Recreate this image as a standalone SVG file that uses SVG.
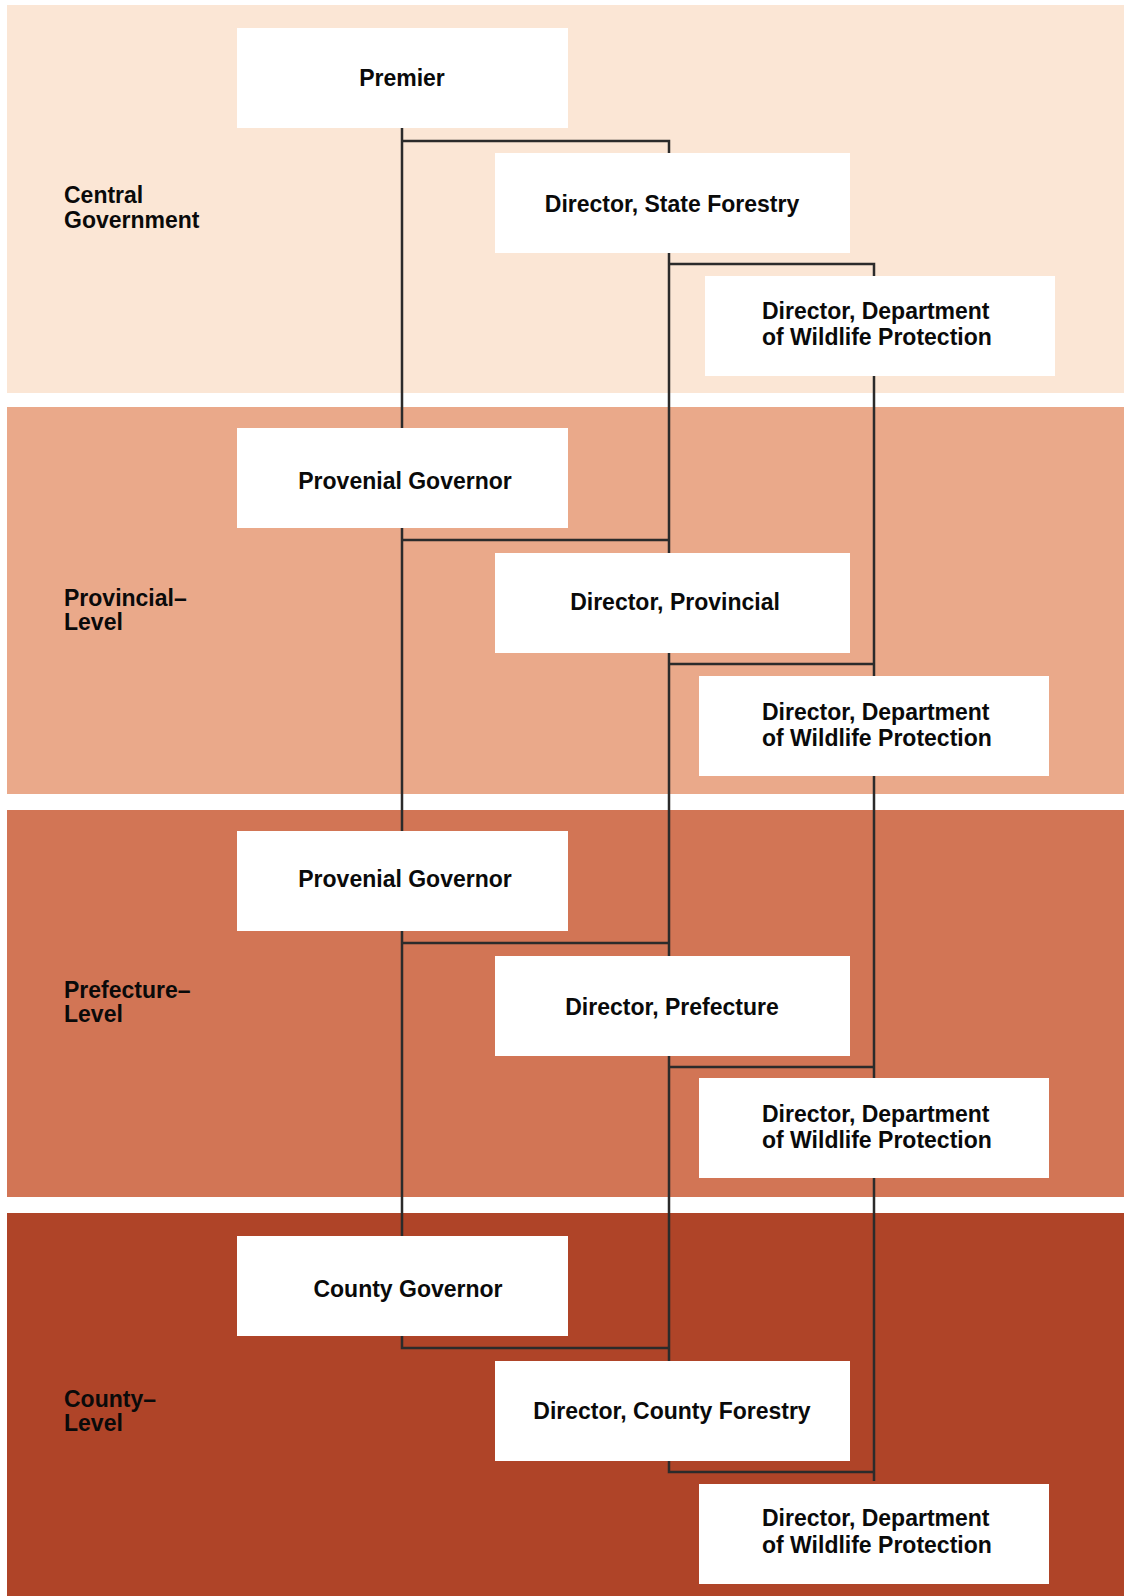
<svg xmlns="http://www.w3.org/2000/svg" width="1124" height="1596" viewBox="0 0 1124 1596">
<style>
.box{fill:#ffffff}
.t{font-family:"Liberation Sans",Arial,sans-serif;font-weight:bold;font-size:23px;fill:#0a0a0a}
.c{text-anchor:middle}
.ln{fill:none;stroke:#2b2b2b;stroke-width:2.5;stroke-linejoin:miter;stroke-linecap:butt}
</style>
<g id="bands">
<rect x="7" y="5" width="1117" height="388" fill="#FBE6D5"/>
<rect x="7" y="407" width="1117" height="387" fill="#EAA98A"/>
<rect x="7" y="810" width="1117" height="387" fill="#D27555"/>
<rect x="7" y="1213" width="1117" height="383" fill="#AF4428"/>
</g>
<g id="level-labels">
<text class="t" x="64" y="203">Central</text>
<text class="t" x="64" y="228">Government</text>
<text class="t" x="64" y="606">Provincial–</text>
<text class="t" x="64" y="630">Level</text>
<text class="t" x="64" y="998">Prefecture–</text>
<text class="t" x="64" y="1022">Level</text>
<text class="t" x="64" y="1407">County–</text>
<text class="t" x="64" y="1431">Level</text>
</g>
<g id="connectors">
<path class="ln" d="M402,128 V1348 H669"/>
<path class="ln" d="M402,141 H669 V1472 H874"/>
<path class="ln" d="M669,264 H874 V1481"/>
<path class="ln" d="M402,540 H669"/>
<path class="ln" d="M669,664 H874"/>
<path class="ln" d="M402,943 H669"/>
<path class="ln" d="M669,1067 H874"/>
</g>
<g id="premier"><rect class="box" x="237" y="28" width="331" height="100"/><text class="t c" x="402" y="86">Premier</text></g>
<g id="director-state-forestry"><rect class="box" x="495" y="153" width="355" height="100"/><text class="t c" x="672" y="212">Director, State Forestry</text></g>
<g id="dwp-central"><rect class="box" x="705" y="276" width="350" height="100"/><text class="t" x="762" y="319">Director, Department</text><text class="t" x="762" y="345">of Wildlife Protection</text></g>
<g id="provincial-governor"><rect class="box" x="237" y="428" width="331" height="100"/><text class="t c" x="405" y="489">Provenial Governor</text></g>
<g id="director-provincial"><rect class="box" x="495" y="553" width="355" height="100"/><text class="t c" x="675" y="610">Director, Provincial</text></g>
<g id="dwp-provincial"><rect class="box" x="699" y="676" width="350" height="100"/><text class="t" x="762" y="720">Director, Department</text><text class="t" x="762" y="746">of Wildlife Protection</text></g>
<g id="prefecture-governor"><rect class="box" x="237" y="831" width="331" height="100"/><text class="t c" x="405" y="887">Provenial Governor</text></g>
<g id="director-prefecture"><rect class="box" x="495" y="956" width="355" height="100"/><text class="t c" x="672" y="1015">Director, Prefecture</text></g>
<g id="dwp-prefecture"><rect class="box" x="699" y="1078" width="350" height="100"/><text class="t" x="762" y="1122">Director, Department</text><text class="t" x="762" y="1148">of Wildlife Protection</text></g>
<g id="county-governor"><rect class="box" x="237" y="1236" width="331" height="100"/><text class="t c" x="408" y="1297">County Governor</text></g>
<g id="director-county-forestry"><rect class="box" x="495" y="1361" width="355" height="100"/><text class="t c" x="672" y="1419">Director, County Forestry</text></g>
<g id="dwp-county"><rect class="box" x="699" y="1484" width="350" height="100"/><text class="t" x="762" y="1526">Director, Department</text><text class="t" x="762" y="1553">of Wildlife Protection</text></g>
</svg>
